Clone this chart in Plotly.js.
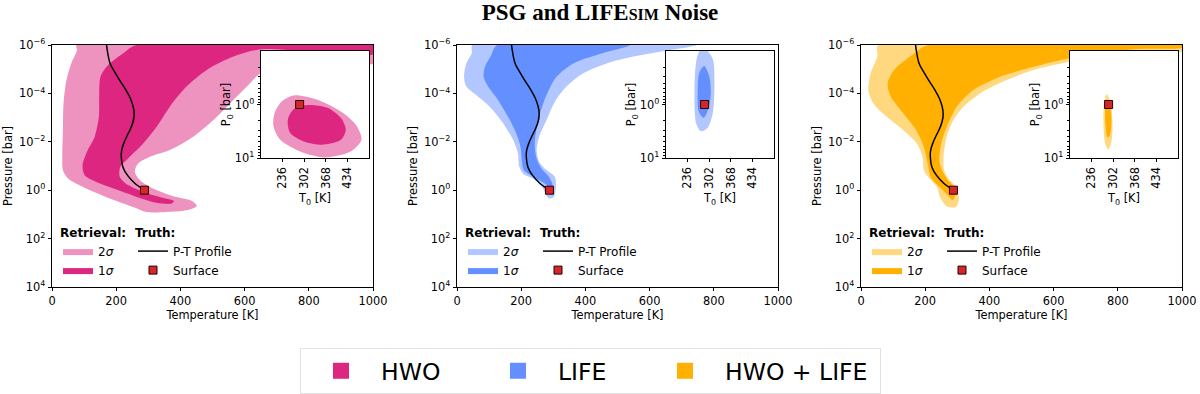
<!DOCTYPE html>
<html>
<head>
<meta charset="utf-8">
<script src="https://cdn.plot.ly/plotly-3.0.1.min.js"></script>
<style>
  html, body { margin: 0; padding: 0; background: #fff; }
  #chart { width: 1200px; height: 394px; }
</style>
</head>
<body>
<div id="chart"></div>
<script>
// Truth P-T profile, same in every panel (temperature in K, log10 of pressure in bar)
const profileT = [170, 172, 181, 197, 213, 230, 244, 253, 256, 253, 245, 234, 224, 217, 216, 221, 236, 257, 287];
const profileLogP = [-6, -5.8, -5.24, -4.85, -4.5, -4.15, -3.8, -3.45, -3.15, -2.85, -2.55, -2.25, -1.95, -1.65, -1.35, -0.95, -0.6, -0.3, 0];
const surfaceT = [288];
const surfaceP = [1];

// HWO retrieval envelopes (main panel)
const hwo2sT = [76, 78, 60, 45, 36, 34, 32, 34, 50, 107, 180, 253, 294, 357, 419, 451, 435, 378, 315, 274, 258, 268, 305, 367, 440, 503, 555, 607, 651, 773, 877, 1002, 1002, 76];
const hwo2sLogP = [-6, -5.79, -5.24, -4.55, -3.59, -2.48, -1.38, -0.83, -0.48, -0.07, 0.34, 0.69, 0.9, 0.9, 0.83, 0.65, 0.44, 0.25, -0.07, -0.41, -0.76, -1.1, -1.38, -1.66, -2.21, -2.9, -3.59, -4.28, -4.83, -5.24, -5.31, -5.24, -6, -6];
const hwo1sT = [263, 222, 175, 151, 147, 146, 133, 109, 95, 102, 138, 201, 274, 326, 373, 380, 347, 284, 237, 211, 213, 237, 284, 326, 367, 419, 482, 565, 651, 1002, 1002, 263];
const hwo1sLogP = [-6, -5.66, -5.17, -4.69, -3.86, -3.03, -2.21, -1.59, -1.03, -0.62, -0.34, -0.03, 0.32, 0.52, 0.55, 0.44, 0.32, 0.07, -0.21, -0.55, -0.97, -1.31, -1.93, -2.62, -3.45, -4.28, -4.97, -5.52, -5.82, -5.63, -6, -6];

// LIFE retrieval envelopes
const life2sT = [48, 46, 29, 22, 29, 60, 102, 144, 175, 190, 194, 208, 248, 271, 286, 302, 308, 305, 279, 256, 248, 256, 279, 305, 341, 393, 466, 549, 646, 747, 48];
const life2sLogP = [-6, -5.66, -5.24, -4.69, -4.28, -3.93, -3.45, -2.76, -2.07, -1.52, -0.97, -0.66, -0.41, 0, 0.34, 0.28, -0.14, -0.55, -0.83, -1.17, -1.66, -2.21, -2.9, -3.66, -4.28, -4.83, -5.24, -5.52, -5.75, -6, -6];
const life1sT = [125, 107, 87, 83, 97, 128, 159, 185, 198, 202, 208, 237, 277, 291, 298, 287, 263, 248, 242, 248, 260, 281, 310, 362, 445, 539, 125];
const life1sLogP = [-6, -5.59, -5.1, -4.69, -4.28, -3.72, -3.03, -2.34, -1.79, -1.24, -0.83, -0.55, -0.25, -0.03, -0.19, -0.55, -0.9, -1.31, -1.93, -2.55, -3.24, -4, -4.69, -5.24, -5.63, -6, -6];

// HWO + LIFE retrieval envelopes
const both2sT = [54, 51, 30, 23, 38, 80, 132, 174, 192, 196, 210, 236, 246, 267, 296, 305, 296, 272, 259, 257, 267, 288, 319, 371, 454, 537, 652, 849, 1005, 1005, 54];
const both2sLogP = [-6, -5.52, -4.83, -4.14, -3.59, -3.03, -2.48, -1.93, -1.38, -0.83, -0.52, -0.14, 0.28, 0.66, 0.69, 0.34, -0.14, -0.48, -0.83, -1.38, -2.21, -2.9, -3.45, -4, -4.55, -4.97, -5.31, -5.63, -5.77, -6, -6];
const both1sT = [210, 153, 103, 83, 93, 132, 172, 196, 208, 217, 244, 267, 286, 294, 288, 267, 252, 244, 250, 267, 298, 350, 433, 537, 652, 849, 1005, 1005, 210];
const both1sLogP = [-6, -5.52, -4.97, -4.41, -3.86, -3.17, -2.48, -1.79, -1.1, -0.55, -0.14, 0.17, 0.41, 0.17, -0.14, -0.48, -0.83, -1.24, -1.93, -2.62, -3.45, -4.14, -4.69, -5.1, -5.45, -5.82, -5.9, -6, -6];

// Inset posteriors of surface temperature T0 and surface pressure P0
const hwoIn2sT = [234, 270, 342, 414, 460, 477, 444, 362, 290, 229, 208, 212, 234];
const hwoIn2sLogP = [-0.06, -0.17, -0.09, 0.13, 0.38, 0.66, 0.88, 0.99, 0.88, 0.66, 0.4, 0.15, -0.06];
const hwoIn1sT = [270, 311, 373, 414, 429, 414, 362, 300, 259, 252, 270];
const hwoIn1sLogP = [0.09, 0.01, 0.06, 0.25, 0.47, 0.66, 0.75, 0.69, 0.53, 0.28, 0.09];
const lifeIn2sT = [287, 313, 318, 313, 297, 277, 262, 257, 262, 272, 287];
const lifeIn2sLogP = [-1.05, -0.85, -0.41, 0.16, 0.44, 0.5, 0.35, -0.28, -0.79, -1.0, -1.05];
const lifeIn1sT = [287, 302, 307, 299, 285, 270, 267, 272, 287];
const lifeIn1sLogP = [-0.72, -0.53, -0.22, 0.09, 0.25, 0.13, -0.28, -0.6, -0.72];
const bothIn2sT = [282, 293, 300, 296, 287, 277, 272, 275, 282];
const bothIn2sLogP = [-0.19, -0.06, 0.35, 0.72, 0.84, 0.72, 0.28, -0.06, -0.19];
const bothIn1sT = [287, 295, 296, 290, 284, 279, 278, 287];
const bothIn1sLogP = [-0.06, 0.13, 0.41, 0.6, 0.61, 0.41, 0.09, -0.06];

const instruments = ["HWO", "LIFE", "HWO + LIFE"];
const darkColors = ["#DC267F", "#648FFF", "#FFB000"];
const lightColors = ["#EE93BF", "#B2C7FF", "#FFD880"];

const mainTicks = [1e-6, 1e-4, 1e-2, 1, 1e2, 1e4];
const mainTickText = ["10<sup>−6</sup>", "10<sup>−4</sup>", "10<sup>−2</sup>", "10<sup>0</sup>", "10<sup>2</sup>", "10<sup>4</sup>"];
const insetTicks = [236, 302, 368, 434];

const bar = (v) => Math.pow(10, v);

const panels = [
  { main: [hwo2sT, hwo2sLogP, hwo1sT, hwo1sLogP], inset: [hwoIn2sT, hwoIn2sLogP, hwoIn1sT, hwoIn1sLogP] },
  { main: [life2sT, life2sLogP, life1sT, life1sLogP], inset: [lifeIn2sT, lifeIn2sLogP, lifeIn1sT, lifeIn1sLogP] },
  { main: [both2sT, both2sLogP, both1sT, both1sLogP], inset: [bothIn2sT, bothIn2sLogP, bothIn1sT, bothIn1sLogP] },
];

function region(T, logP, color, xa, ya, name, legend, showlegend) {
  return {
    x: T, y: logP.map(bar), xaxis: xa, yaxis: ya,
    type: "scatter", mode: "lines", fill: "toself", fillcolor: color,
    line: { width: 0, shape: "spline", smoothing: 0.8, color: color },
    name: name, legend: legend, showlegend: showlegend, hoverinfo: "skip",
  };
}

const traces = [];
panels.forEach((p, i) => {
  const xa = "x" + (i === 0 ? "" : i + 1);
  const ya = "y" + (i === 0 ? "" : i + 1);
  const retr = "legend" + (i === 0 ? "" : 2 * i + 1);
  const truth = "legend" + (2 * i + 2);
  traces.push(region(p.main[0], p.main[1], lightColors[i], xa, ya, "2<i>σ</i>", retr, true));
  traces.push(region(p.main[2], p.main[3], darkColors[i], xa, ya, "1<i>σ</i>", retr, true));
  traces.push({
    x: profileT, y: profileLogP.map(bar), xaxis: xa, yaxis: ya,
    type: "scatter", mode: "lines", line: { color: "#000", width: 1.5, shape: "spline" },
    name: "P-T Profile", legend: truth,
  });
  traces.push({
    x: surfaceT, y: surfaceP, xaxis: xa, yaxis: ya,
    type: "scatter", mode: "markers",
    marker: { symbol: "square", size: 8, color: "#D62728", line: { color: "#2a0000", width: 1 } },
    name: "Surface", legend: truth,
  });
});

panels.forEach((p, i) => {
  const xa = "x" + (i + 4);
  const ya = "y" + (i + 4);
  traces.push(region(p.inset[0], p.inset[1], lightColors[i], xa, ya, "", "legend", false));
  traces.push(region(p.inset[2], p.inset[3], darkColors[i], xa, ya, "", "legend", false));
  traces.push({
    x: surfaceT, y: surfaceP, xaxis: xa, yaxis: ya,
    type: "scatter", mode: "markers", showlegend: false,
    marker: { symbol: "square", size: 8, color: "#D62728", line: { color: "#2a0000", width: 1 } },
  });
});

// entries of the shared legend at the bottom
const entryWidths = [92, 82, 150];
instruments.forEach((name, i) => {
  traces.push({
    x: [null], y: [null], xaxis: "x", yaxis: "y",
    type: "scatter", mode: "markers",
    marker: { symbol: "square", size: 16, color: darkColors[i] },
    name: name, legend: "legend7", legendwidth: entryWidths[i],
  });
});

const W = 1200, H = 394;
const px = (a, b) => [a / W, b / W];
const py = (top, bottom) => [1 - bottom / H, 1 - top / H];

const mainLeft = [52, 457, 861];
const axisFont = { size: 11.4, color: "#000" };

const layout = {
  width: W, height: H,
  margin: { l: 0, r: 0, t: 0, b: 0 },
  paper_bgcolor: "#fff", plot_bgcolor: "#fff",
  font: { family: "DejaVu Sans", color: "#000", size: 11.4 },
  title: {
    text: "<b>PSG and LIFE<span style=\"font-size:16px\">SIM</span> Noise</b>",
    font: { family: "Liberation Serif", size: 23, color: "#000" },
    x: 0.5, xanchor: "center", xref: "paper", y: 1 - 12 / H, yanchor: "middle", yref: "container",
  },
  showlegend: true,
};

mainLeft.forEach((left, i) => {
  const k = i === 0 ? "" : i + 1;
  layout["xaxis" + k] = {
    domain: px(left, left + 321), anchor: "y" + k, range: [0, 1000],
    tickvals: [0, 200, 400, 600, 800, 1000], ticks: "outside", ticklen: 3.5, tickwidth: 0.8, tickcolor: "#000",
    showline: true, mirror: true, linecolor: "#000", linewidth: 0.8, showgrid: false, zeroline: false,
    tickfont: axisFont, title: { text: "Temperature [K]", font: axisFont, standoff: 2 },
  };
  layout["yaxis" + k] = {
    domain: py(45, 287), anchor: "x" + k, type: "log", range: [4, -6],
    tickvals: mainTicks, ticktext: mainTickText, ticks: "outside", ticklen: 3.5, tickwidth: 0.8, tickcolor: "#000",
    showline: true, mirror: true, linecolor: "#000", linewidth: 0.8, showgrid: false, zeroline: false,
    tickfont: axisFont, title: { text: "Pressure [bar]", font: axisFont, standoff: 4 },
  };
  const j = i + 4;
  const inLeft = left + 209;
  layout["xaxis" + j] = {
    domain: px(inLeft, inLeft + 108), anchor: "y" + j, range: [170, 500],
    tickvals: insetTicks, tickangle: -90, ticks: "outside", ticklen: 3.5, tickwidth: 0.8, tickcolor: "#000",
    showline: true, mirror: true, linecolor: "#000", linewidth: 0.8, showgrid: false, zeroline: false,
    tickfont: axisFont, title: { text: "T<sub>0</sub> [K]", font: axisFont, standoff: 6 },
  };
  layout["yaxis" + j] = {
    domain: py(51, 158), anchor: "x" + j, type: "log", range: [1, -1],
    tickvals: [1, 10], ticktext: ["10<sup>0</sup>", "10<sup>1</sup>"],
    ticks: "outside", ticklen: 3.5, tickwidth: 0.8, tickcolor: "#000",
    minor: { tickvals: [0.2, 0.3, 0.4, 0.5, 0.6, 0.7, 0.8, 0.9, 2, 3, 4, 5, 6, 7, 8, 9], ticks: "outside", ticklen: 2, tickwidth: 0.6, tickcolor: "#000", showgrid: false },
    showline: true, mirror: true, linecolor: "#000", linewidth: 0.8, showgrid: false, zeroline: false,
    tickfont: axisFont, title: { text: "P<sub>0</sub> [bar]", font: axisFont, standoff: 1 },
  };

  const legendBase = {
    bgcolor: "rgba(0,0,0,0)", borderwidth: 0, font: { size: 12, color: "#000" },
    xanchor: "left", yanchor: "top", y: 1 - 221 / H, itemclick: false, itemdoubleclick: false,
  };
  const r = i === 0 ? "" : 2 * i + 1;
  layout["legend" + r] = Object.assign({}, legendBase, {
    x: (left + 6) / W, title: { text: "<b>Retrieval:</b>", side: "top", font: { size: 12 } },
  });
  layout["legend" + (2 * i + 2)] = Object.assign({}, legendBase, {
    x: (left + 81) / W, title: { text: "<b>Truth:</b>", side: "top", font: { size: 12 } },
  });
});

layout.legend7 = {
  orientation: "h", x: 300 / W, xanchor: "left", y: 1 - 348 / H, yanchor: "top",
  bgcolor: "#fff", bordercolor: "#e2e2e2", borderwidth: 1, itemwidth: 70,
  font: { family: "DejaVu Sans", size: 23.5, color: "#000" }, itemclick: false, itemdoubleclick: false,
};

Plotly.newPlot("chart", traces, layout, { displayModeBar: false, responsive: false });
</script>
</body>
</html>
